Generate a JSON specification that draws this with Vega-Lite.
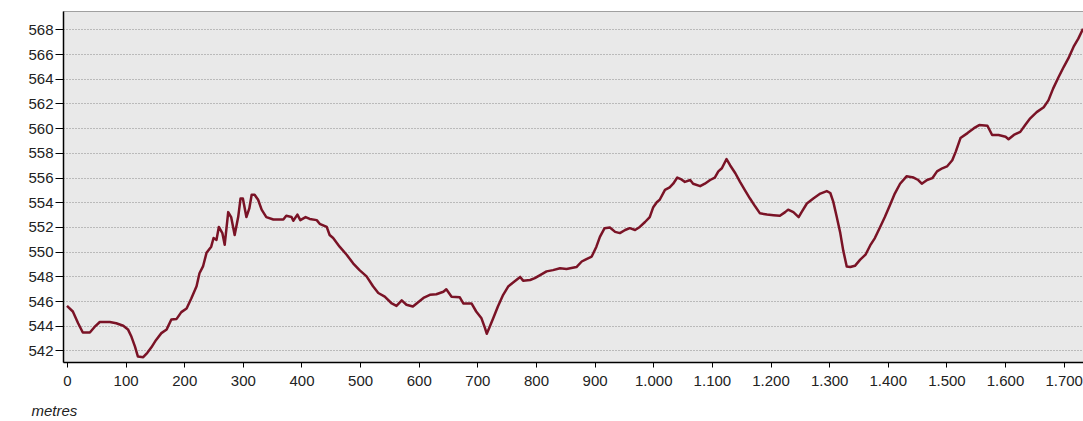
{
  "$schema": "https://vega.github.io/schema/vega-lite/v6.json",
  "width": 1020,
  "height": 351,
  "autosize": {"type": "none"},
  "padding": {"left": 63, "top": 11, "right": 0, "bottom": 59},
  "background": "#ffffff",
  "config": {
    "view": {"fill": "#e9e9e9", "stroke": "#a0a0a0", "strokeWidth": 1},
    "font": "Liberation Sans",
    "axis": {"labelFont": "Liberation Sans", "titleFont": "Liberation Sans"}
  },
  "data": {"values": [
    {"d": 0, "v": 545.6}, {"d": 10, "v": 545.15}, {"d": 19, "v": 544.2}, {"d": 27, "v": 543.45}, {"d": 39, "v": 543.45},
    {"d": 47, "v": 543.9}, {"d": 56, "v": 544.3}, {"d": 73, "v": 544.3}, {"d": 84, "v": 544.2}, {"d": 96, "v": 544.0},
    {"d": 104, "v": 543.7}, {"d": 110, "v": 543.1}, {"d": 116, "v": 542.3}, {"d": 121, "v": 541.5}, {"d": 130, "v": 541.45},
    {"d": 137, "v": 541.8}, {"d": 144, "v": 542.25}, {"d": 152, "v": 542.85}, {"d": 161, "v": 543.4}, {"d": 170, "v": 543.7},
    {"d": 178, "v": 544.5}, {"d": 187, "v": 544.55}, {"d": 195, "v": 545.1}, {"d": 204, "v": 545.4}, {"d": 212, "v": 546.2},
    {"d": 221, "v": 547.2}, {"d": 226, "v": 548.25}, {"d": 232, "v": 548.8}, {"d": 238, "v": 549.9}, {"d": 246, "v": 550.4},
    {"d": 250, "v": 551.1}, {"d": 255, "v": 550.95}, {"d": 259, "v": 552.0}, {"d": 265, "v": 551.5}, {"d": 269, "v": 550.55},
    {"d": 275, "v": 553.2}, {"d": 280, "v": 552.8}, {"d": 286, "v": 551.35}, {"d": 292, "v": 552.8}, {"d": 296, "v": 554.3},
    {"d": 300, "v": 554.3}, {"d": 306, "v": 552.8}, {"d": 311, "v": 553.5}, {"d": 315, "v": 554.6}, {"d": 320, "v": 554.6},
    {"d": 326, "v": 554.2}, {"d": 332, "v": 553.4}, {"d": 340, "v": 552.8}, {"d": 352, "v": 552.6}, {"d": 369, "v": 552.6},
    {"d": 374, "v": 552.9}, {"d": 383, "v": 552.8}, {"d": 386, "v": 552.5}, {"d": 393, "v": 553.0}, {"d": 398, "v": 552.55},
    {"d": 407, "v": 552.8}, {"d": 414, "v": 552.65}, {"d": 426, "v": 552.55}, {"d": 431, "v": 552.25}, {"d": 443, "v": 552.0},
    {"d": 448, "v": 551.35}, {"d": 454, "v": 551.1}, {"d": 465, "v": 550.4}, {"d": 477, "v": 549.75}, {"d": 488, "v": 549.05},
    {"d": 499, "v": 548.5}, {"d": 511, "v": 548.0}, {"d": 522, "v": 547.2}, {"d": 531, "v": 546.65}, {"d": 542, "v": 546.35},
    {"d": 554, "v": 545.8}, {"d": 562, "v": 545.6}, {"d": 571, "v": 546.05}, {"d": 579, "v": 545.7}, {"d": 590, "v": 545.55},
    {"d": 599, "v": 545.9}, {"d": 608, "v": 546.25}, {"d": 619, "v": 546.5}, {"d": 630, "v": 546.55}, {"d": 642, "v": 546.75},
    {"d": 647, "v": 546.95}, {"d": 656, "v": 546.35}, {"d": 670, "v": 546.3}, {"d": 676, "v": 545.8}, {"d": 690, "v": 545.8},
    {"d": 698, "v": 545.15}, {"d": 707, "v": 544.6}, {"d": 713, "v": 543.8}, {"d": 716, "v": 543.35}, {"d": 720, "v": 543.8},
    {"d": 727, "v": 544.6}, {"d": 735, "v": 545.55}, {"d": 744, "v": 546.5}, {"d": 753, "v": 547.2}, {"d": 761, "v": 547.5},
    {"d": 773, "v": 547.95}, {"d": 778, "v": 547.65}, {"d": 790, "v": 547.7}, {"d": 798, "v": 547.85}, {"d": 807, "v": 548.1},
    {"d": 818, "v": 548.4}, {"d": 829, "v": 548.5}, {"d": 841, "v": 548.65}, {"d": 852, "v": 548.6}, {"d": 869, "v": 548.75},
    {"d": 878, "v": 549.2}, {"d": 886, "v": 549.4}, {"d": 895, "v": 549.6}, {"d": 903, "v": 550.4}, {"d": 909, "v": 551.2},
    {"d": 917, "v": 551.9}, {"d": 926, "v": 551.95}, {"d": 935, "v": 551.6}, {"d": 943, "v": 551.5}, {"d": 952, "v": 551.75},
    {"d": 960, "v": 551.9}, {"d": 969, "v": 551.75}, {"d": 977, "v": 552.0}, {"d": 986, "v": 552.4}, {"d": 994, "v": 552.8},
    {"d": 1000, "v": 553.6}, {"d": 1006, "v": 554.0}, {"d": 1011, "v": 554.2}, {"d": 1020, "v": 555.0}, {"d": 1028, "v": 555.2},
    {"d": 1034, "v": 555.5}, {"d": 1041, "v": 556.0}, {"d": 1048, "v": 555.85}, {"d": 1054, "v": 555.65}, {"d": 1063, "v": 555.8},
    {"d": 1068, "v": 555.5}, {"d": 1080, "v": 555.3}, {"d": 1088, "v": 555.5}, {"d": 1097, "v": 555.8}, {"d": 1105, "v": 556.0},
    {"d": 1111, "v": 556.5}, {"d": 1117, "v": 556.75}, {"d": 1125, "v": 557.5}, {"d": 1131, "v": 557.0}, {"d": 1140, "v": 556.35},
    {"d": 1148, "v": 555.65}, {"d": 1156, "v": 555.0}, {"d": 1165, "v": 554.3}, {"d": 1174, "v": 553.65}, {"d": 1182, "v": 553.1},
    {"d": 1194, "v": 553.0}, {"d": 1205, "v": 552.95}, {"d": 1216, "v": 552.9}, {"d": 1225, "v": 553.2}, {"d": 1230, "v": 553.4},
    {"d": 1239, "v": 553.2}, {"d": 1248, "v": 552.8}, {"d": 1253, "v": 553.2}, {"d": 1262, "v": 553.9}, {"d": 1273, "v": 554.3},
    {"d": 1285, "v": 554.7}, {"d": 1296, "v": 554.9}, {"d": 1302, "v": 554.75}, {"d": 1307, "v": 554.05}, {"d": 1313, "v": 552.8},
    {"d": 1319, "v": 551.5}, {"d": 1324, "v": 550.1}, {"d": 1330, "v": 548.8}, {"d": 1336, "v": 548.75}, {"d": 1344, "v": 548.85},
    {"d": 1353, "v": 549.35}, {"d": 1362, "v": 549.75}, {"d": 1370, "v": 550.5}, {"d": 1378, "v": 551.1}, {"d": 1387, "v": 552.0},
    {"d": 1395, "v": 552.8}, {"d": 1404, "v": 553.8}, {"d": 1412, "v": 554.7}, {"d": 1421, "v": 555.5}, {"d": 1432, "v": 556.1},
    {"d": 1444, "v": 556.0}, {"d": 1452, "v": 555.8}, {"d": 1458, "v": 555.5}, {"d": 1467, "v": 555.8}, {"d": 1476, "v": 555.95},
    {"d": 1484, "v": 556.5}, {"d": 1493, "v": 556.75}, {"d": 1501, "v": 556.9}, {"d": 1510, "v": 557.4}, {"d": 1516, "v": 558.1},
    {"d": 1524, "v": 559.2}, {"d": 1536, "v": 559.6}, {"d": 1547, "v": 560.0}, {"d": 1556, "v": 560.25}, {"d": 1570, "v": 560.2},
    {"d": 1578, "v": 559.45}, {"d": 1589, "v": 559.45}, {"d": 1601, "v": 559.3}, {"d": 1606, "v": 559.1}, {"d": 1615, "v": 559.45},
    {"d": 1626, "v": 559.7}, {"d": 1635, "v": 560.3}, {"d": 1643, "v": 560.8}, {"d": 1654, "v": 561.3}, {"d": 1666, "v": 561.7},
    {"d": 1674, "v": 562.25}, {"d": 1682, "v": 563.2}, {"d": 1691, "v": 564.1}, {"d": 1700, "v": 564.95}, {"d": 1708, "v": 565.65},
    {"d": 1717, "v": 566.6}, {"d": 1725, "v": 567.25}, {"d": 1733, "v": 568.05}
  ]},
  "mark": {"type": "line", "color": "#7a1326", "strokeWidth": 2.5, "clip": true, "strokeJoin": "round"},
  "encoding": {
    "x": {
      "field": "d", "type": "quantitative",
      "scale": {"domain": [-6.8, 1733], "nice": false, "zero": false},
      "axis": {
        "values": [0, 100, 200, 300, 400, 500, 600, 700, 800, 900, 1000, 1100, 1200, 1300, 1400, 1500, 1600, 1700],
        "labelExpr": "replace(format(datum.value, ','), ',', '.')",
        "grid": false, "domainColor": "#000000", "domainWidth": 1.5,
        "tickColor": "#000000", "tickSize": 5, "labelPadding": 6,
        "labelFontSize": 15, "labelColor": "#222222",
        "title": "metres", "titleFontStyle": "italic", "titleFontWeight": "normal",
        "titleFontSize": 15, "titleColor": "#222222",
        "titleAnchor": "start", "titleAlign": "left", "titleX": -32, "titleY": 53, "titleBaseline": "alphabetic"
      }
    },
    "y": {
      "field": "v", "type": "quantitative",
      "scale": {"domain": [541.06, 569.49], "nice": false, "zero": false},
      "axis": {
        "values": [542, 544, 546, 548, 550, 552, 554, 556, 558, 560, 562, 564, 566, 568],
        "title": null, "grid": true, "gridColor": "#8a8a8a", "gridDash": [1, 2], "gridWidth": 1,
        "domainColor": "#000000", "domainWidth": 1.5,
        "tickColor": "#000000", "tickSize": 8, "labelPadding": 2,
        "labelFontSize": 15, "labelColor": "#222222"
      }
    }
  }
}
